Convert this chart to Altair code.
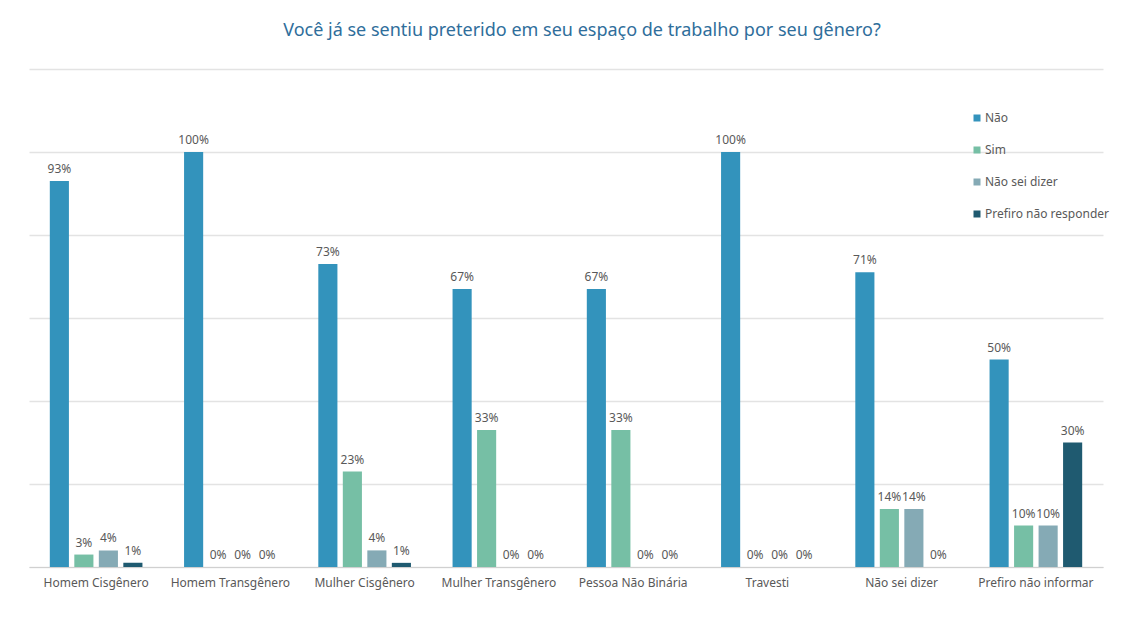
import altair as alt
import pandas as pd

categories = ["Homem Cisgênero", "Homem Transgênero", "Mulher Cisgênero", "Mulher Transgênero",
              "Pessoa Não Binária", "Travesti", "Não sei dizer", "Prefiro não informar"]
series = ["Não", "Sim", "Não sei dizer", "Prefiro não responder"]
nao = [93, 100, 73, 67, 67, 100, 71, 50]
sim = [3, 0, 23, 33, 33, 0, 14, 10]
nao_sei = [4, 0, 4, 0, 0, 0, 14, 10]
prefiro = [1, 0, 1, 0, 0, 0, 0, 30]
colors = ["#3393BC", "#76BFA5", "#85AAB5", "#1F5A70"]

rows = []
for i, c in enumerate(categories):
    for s, vals in zip(series, [nao, sim, nao_sei, prefiro]):
        rows.append({"cat": c, "serie": s, "val": vals[i], "label": f"{vals[i]}%"})
df = pd.DataFrame(rows)

FONT = "Noto Sans"

x = alt.X("cat:N", sort=categories, title=None,
          scale=alt.Scale(paddingInner=0.31, paddingOuter=0.155),
          axis=alt.Axis(labelAngle=0, ticks=False, domainColor="#d0d0d0", labelColor="#595959",
                        labelFontSize=12, labelFont=FONT, labelPadding=10))
xo = alt.XOffset("serie:N", sort=series, scale=alt.Scale(paddingInner=0.22, paddingOuter=0))
y = alt.Y("val:Q", title=None, scale=alt.Scale(domain=[0, 120]),
          axis=alt.Axis(values=[0, 20, 40, 60, 80, 100, 120], labels=False, ticks=False,
                        domain=False, grid=True, gridColor="#e3e3e3", gridWidth=1.3))

bars = alt.Chart(df).mark_bar().encode(
    x=x, xOffset=xo, y=y,
    color=alt.Color("serie:N", sort=series,
                    scale=alt.Scale(domain=series, range=colors),
                    legend=alt.Legend(title=None, orient="none", legendX=942, legendY=43,
                                      symbolType="square", symbolSize=49, symbolStrokeWidth=0,
                                      labelFontSize=12, labelColor="#595959", labelFont=FONT,
                                      rowPadding=20, labelOffset=2)),
)
labels = alt.Chart(df).mark_text(dy=-12, fontSize=12, color="#595959", font=FONT).encode(
    x=x, xOffset=xo, y=y, text="label:N"
)

chart = alt.layer(bars, labels).properties(
    width=1074, height=498,
    title=alt.TitleParams("Você já se sentiu preterido em seu espaço de trabalho por seu gênero?",
                          anchor="middle", dx=16, offset=15, baseline="alphabetic",
                          fontSize=18, font=FONT, fontWeight="normal", color="#2F6E9B"),
    padding={"left": 21, "top": 61, "right": 10, "bottom": 30},
    autosize=alt.AutoSizeParams(type="none"),
    background="white",
).configure_view(stroke=None)

chart.save("out.html", embed_options={"renderer": "svg", "actions": False})
